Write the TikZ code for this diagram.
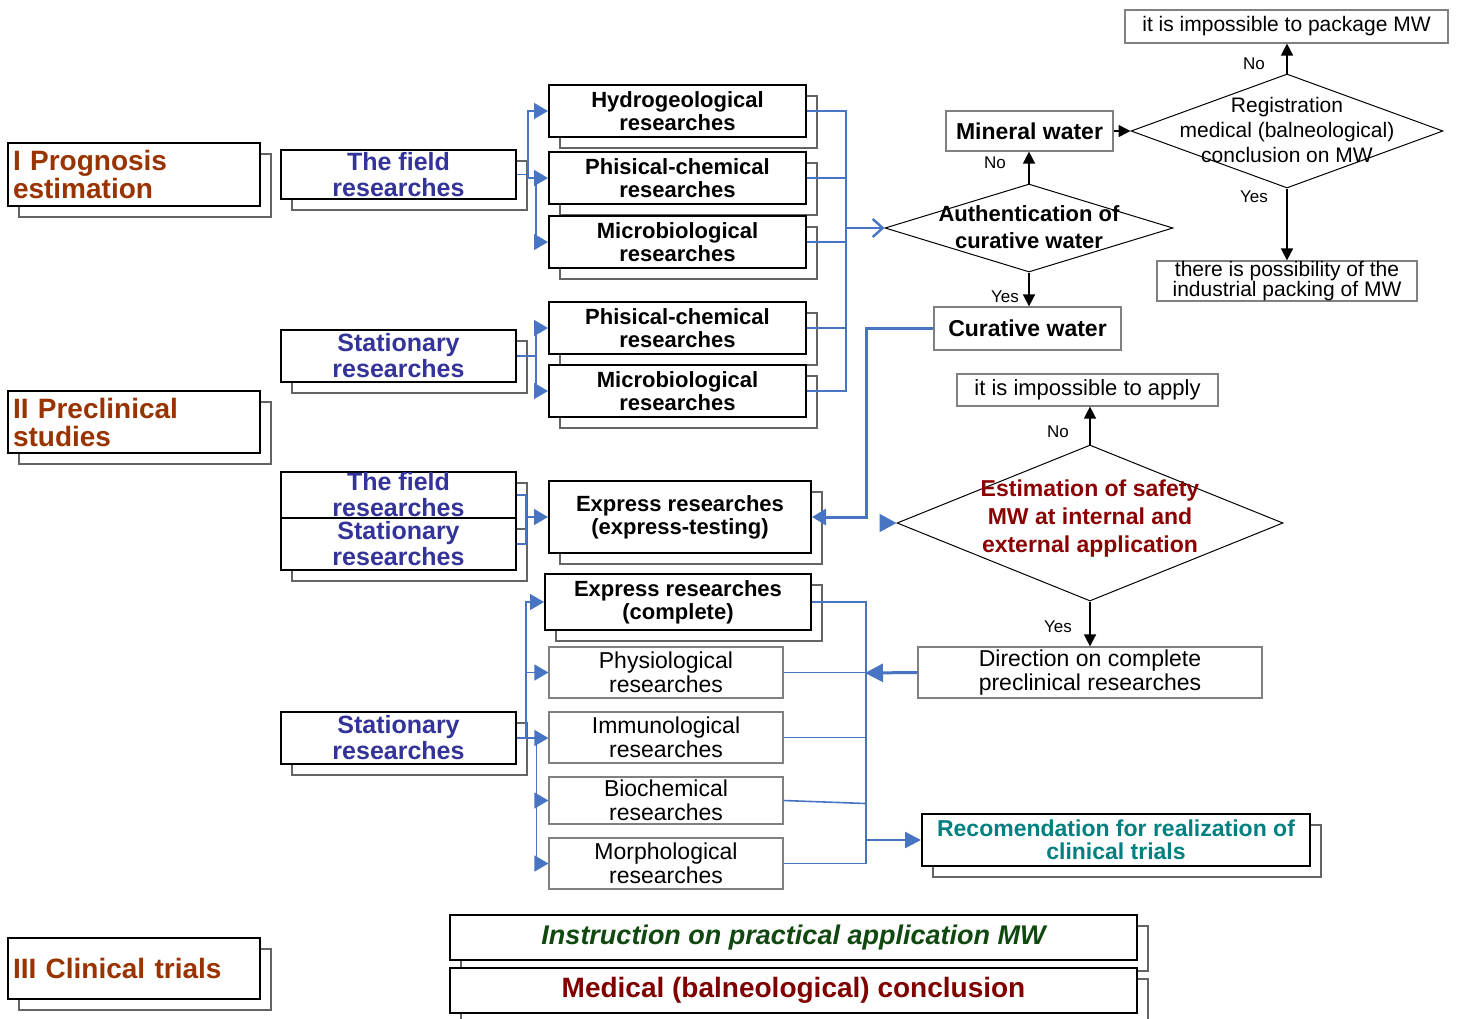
\documentclass[tikz,border=0pt]{standalone}
\usepackage{fontspec}
\setmainfont{Liberation Sans}
\usetikzlibrary{arrows.meta, shapes.geometric, shadows}
\definecolor{stagebrown}{RGB}{153,51,0}
\definecolor{subblue}{RGB}{51,51,153}
\definecolor{linkblue}{RGB}{71,117,196}
\definecolor{safered}{RGB}{139,0,0}
\definecolor{recteal}{RGB}{0,128,128}
\definecolor{instgreen}{RGB}{16,72,16}
\definecolor{concred}{RGB}{128,0,0}
\definecolor{shadegray}{RGB}{100,100,100}

\begin{document}
\begin{tikzpicture}[x=0.5pt, y=-0.5pt]
    \tikzset{wh/.style 2 args={minimum width=#1*0.5pt, minimum height=#2*0.5pt}}
    \tikzstyle{framed}=[draw=black, line width=1pt, fill=white, inner sep=0pt, align=center,
        copy shadow={shadow xshift=5.5pt, shadow yshift=-5.5pt, draw=shadegray, fill=white, line width=0.6pt}]
    \tikzstyle{stage}=[framed, text=stagebrown, font=\fontsize{14}{14}\selectfont\bfseries, text width=121pt, align=left]
    \tikzstyle{study}=[framed, text=subblue, font=\fontsize{12.5}{13}\selectfont\bfseries]
    \tikzstyle{research}=[framed, font=\fontsize{11}{11.5}\selectfont\bfseries]
    \tikzstyle{plain}=[draw=gray, line width=0.6pt, fill=white, inner sep=0pt, align=center, font=\fontsize{11.5}{12}\selectfont]
    \tikzstyle{decision}=[diamond, draw=black, line width=0.5pt, inner sep=0pt]
    \tikzstyle{note}=[inner sep=1pt, font=\fontsize{8.5}{9}\selectfont]
    \tikzstyle{link}=[draw=linkblue, line width=0.8pt]
    \tikzstyle{linkarrow}=[link, -{Triangle[length=7pt,width=8pt]}]
    \tikzstyle{flow}=[draw=black, line width=0.75pt, -{Triangle[length=6pt,width=6pt]}]

    \useasboundingbox (0,0) rectangle (1457,1018);

    % stages
    \node[stage, wh={252}{63}] (P1) at (134,174.5) {I Prognosis\\estimation};
    \node[stage, wh={252}{62}] (P2) at (134,422) {II Preclinical\\studies};
    \node[stage, wh={252}{61}] (P3) at (134,968.5) {III Clinical trials};

    % studies
    \node[study, wh={235}{49}] (F1) at (398.5,174.5) {The field\\researches};
    \node[study, wh={235}{52}] (S1) at (398.5,356) {Stationary\\researches};
    \node[study, wh={235}{46}] (F2) at (398.5,495) {The field\\researches};
    \node[study, wh={235}{52}] (S2) at (398.5,544) {Stationary\\researches};
    \node[study, wh={235}{52}] (S3) at (398.5,738) {Stationary\\researches};

    % researches
    \node[research, wh={257}{52}] (R1) at (677.5,111) {Hydrogeological\\researches};
    \node[research, wh={257}{52}] (R2) at (677.5,178) {Phisical-chemical\\researches};
    \node[research, wh={257}{52}] (R3) at (677.5,242) {Microbiological\\researches};
    \node[research, wh={257}{52}] (R4) at (677.5,328) {Phisical-chemical\\researches};
    \node[research, wh={257}{52}] (R5) at (677.5,391) {Microbiological\\researches};
    \node[research, wh={262}{72}] (E1) at (680,517) {Express researches\\(express-testing)};
    \node[research, wh={266}{56}] (E2) at (678,602) {Express researches\\(complete)};

    \node[plain, wh={234}{51}] (T1) at (666,672.5) {Physiological\\researches};
    \node[plain, wh={234}{51}] (T2) at (666,737.5) {Immunological\\researches};
    \node[plain, wh={234}{47}] (T3) at (666,800.5) {Biochemical\\researches};
    \node[plain, wh={234}{51}] (T4) at (666,863.5) {Morphological\\researches};

    % decisions
    \node[plain, font=\fontsize{11.5}{12}\selectfont\bfseries, wh={167}{40}] (MW) at (1029.5,131) {Mineral water};
    \node[decision, wh={312}{114}] (Reg) at (1287,131) {};
    \node[font=\fontsize{10.5}{12.5}\selectfont, align=center] (Reg-t) at (1287,130) {Registration\\medical (balneological)\\conclusion on MW};
    \node[plain, font=\fontsize{10.5}{12}\selectfont, wh={323}{33}] (Pk) at (1286.5,26.5) {it is impossible to package MW};
    \node[plain, font=\fontsize{10.5}{10}\selectfont, wh={260}{40}] (Ind) at (1287,281) {there is possibility of the\\industrial packing of MW};
    \node[decision, wh={288}{88}] (Au) at (1029,228) {};
    \node[font=\fontsize{11}{13.5}\selectfont\bfseries, align=center] (Au-t) at (1029,227) {Authentication of\\curative water};
    \node[plain, font=\fontsize{11.5}{12}\selectfont\bfseries, wh={187}{43}] (CW) at (1027.5,328.5) {Curative water};
    \node[plain, font=\fontsize{11}{12}\selectfont, wh={261}{32}] (Ap) at (1087.5,390) {it is impossible to apply};
    \node[decision, wh={386}{156}] (Es) at (1090,523) {};
    \node[text=safered, font=\fontsize{11.5}{14}\selectfont\bfseries, align=center] (Es-t) at (1090,519) {Estimation of safety\\MW at internal and\\external application};
    \node[plain, wh={344}{51}] (Dir) at (1090,672.5) {Direction on complete\\preclinical researches};
    \node[framed, text=recteal, font=\fontsize{11.5}{11.5}\selectfont\bfseries, wh={388}{52}] (Rec) at (1116,840) {Recomendation for realization of\\clinical trials};
    \node[framed, text=instgreen, font=\fontsize{13.5}{14}\selectfont\bfseries\itshape, wh={687}{45}] (In) at (793.5,937.5) {Instruction on practical application MW};
    \node[framed, text=concred, font=\fontsize{14}{14}\selectfont\bfseries, wh={687}{45}] (Med) at (793.5,990.5) {Medical (balneological) conclusion};

    \draw[flow] (Au.north) -- (Au.north |- MW.south);
    \draw[flow] (MW.east) -- (Reg.west);
    \draw[flow] (Reg.north) -- (Reg.north |- Pk.south);
    \draw[flow] (Reg.south) -- (Reg.south |- Ind.north);
    \draw[flow] (Au.south) -- (Au.south |- CW.north);
    \draw[flow] (Es.north) -- (Es.north |- Ap.south);
    \draw[flow] (Es.south) -- (Es.south |- Dir.north);

    \node[note] (no-a) at (995,163) {No};
    \node[note] (no-r) at (1254,64) {No};
    \node[note] (yes-r) at (1254,197) {Yes};
    \node[note] (yes-a) at (1005,297) {Yes};
    \node[note] (no-e) at (1058,432) {No};
    \node[note] (yes-e) at (1058,627) {Yes};

    % blue links
    \draw[linkarrow] (F1.east) -- ++(11,0) |- (R1.west);
    \draw[linkarrow] ([xshift=5.5pt]F1.east) |- (R2.west);
    \draw[linkarrow] ([xshift=-6pt]R2.west) |- (R3.west);
    \draw[linkarrow] (S1.east) -| ([xshift=-6pt]R4.west) -- (R4.west);
    \draw[linkarrow] ([xshift=-6pt]R4.west) |- (R5.west);
    \draw[linkarrow] (F2.east) -| ([xshift=-11pt]E1.west) -- (E1.west);
    \draw[link] (S2.east) -| ([xshift=-11pt]E1.west);
    \draw[linkarrow] (S3.east) -| ([xshift=-9pt]E2.west) -- (E2.west);
    \draw[linkarrow] ([xshift=-11pt]T1.west) -- (T1.west);
    \draw[linkarrow] (S3.east) -- (S3.east -| T2.west);
    \draw[linkarrow] ([xshift=-6pt]T2.west) |- (T3.west);
    \draw[linkarrow] ([xshift=-6pt]T2.west) |- (T4.west);

    \draw[link] (R1.east) -- ++(39,0) |- (R5.east);
    \draw[link] (R2.east) -- ++(39,0);
    \draw[link] (R3.east) -- ++(39,0);
    \draw[link] (R4.east) -- ++(39,0);
    \coordinate (up-j) at (845,228);
    \draw[link, line width=1.2pt, -{Straight Barb[length=5pt,width=9pt]}] (up-j) -- (Au.west);

    \draw[link] (E2.east) -- ++(54,0) |- (T4.east);
    \draw[link] (T1.east) -- ++(82,0);
    \draw[link] (T2.east) -- ++(82,0);
    \draw[link] (T3.east) -- ++(82,3);
    \coordinate (low-j) at (865,840);
    \draw[link, line width=1.2pt, -{Triangle[length=8pt,width=8pt]}] (low-j) -- (Rec.west);
    \coordinate (dir-j) at (865,673);
    \draw[link, line width=1.5pt, -{Triangle[length=9pt,width=9pt]}] (Dir.west) -- (dir-j);
    \draw[link, line width=1.5pt, -{Triangle[length=7pt,width=8pt]}] (CW.west) -| ([xshift=27pt]E1.east) -- (E1.east);
    \coordinate (es-j) at (880,523);
    \draw[link, -{Triangle[length=8.5pt,width=9pt]}] (es-j) -- (Es.west);
\end{tikzpicture}
\end{document}
